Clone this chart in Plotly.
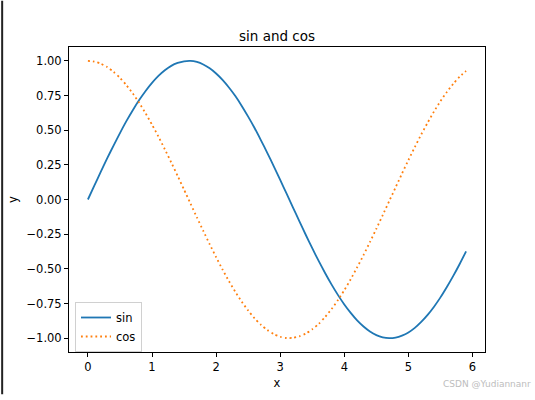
import plotly.graph_objects as go

x_vals = [0.0, 0.1, 0.2, 0.3, 0.4, 0.5, 0.6, 0.7, 0.8, 0.9,
          1.0, 1.1, 1.2, 1.3, 1.4, 1.5, 1.6, 1.7, 1.8, 1.9,
          2.0, 2.1, 2.2, 2.3, 2.4, 2.5, 2.6, 2.7, 2.8, 2.9,
          3.0, 3.1, 3.2, 3.3, 3.4, 3.5, 3.6, 3.7, 3.8, 3.9,
          4.0, 4.1, 4.2, 4.3, 4.4, 4.5, 4.6, 4.7, 4.8, 4.9,
          5.0, 5.1, 5.2, 5.3, 5.4, 5.5, 5.6, 5.7, 5.8, 5.9]

sin_vals = [0.000, 0.100, 0.199, 0.296, 0.389, 0.479, 0.565, 0.644, 0.717, 0.783,
            0.841, 0.891, 0.932, 0.964, 0.985, 0.997, 1.000, 0.992, 0.974, 0.946,
            0.909, 0.863, 0.808, 0.746, 0.675, 0.598, 0.516, 0.427, 0.335, 0.239,
            0.141, 0.042, -0.058, -0.158, -0.256, -0.351, -0.443, -0.530, -0.612, -0.688,
            -0.757, -0.818, -0.872, -0.916, -0.952, -0.978, -0.994, -1.000, -0.996, -0.982,
            -0.959, -0.926, -0.883, -0.832, -0.773, -0.706, -0.631, -0.551, -0.465, -0.374]

cos_vals = [1.000, 0.995, 0.980, 0.955, 0.921, 0.878, 0.825, 0.765, 0.697, 0.622,
            0.540, 0.454, 0.362, 0.267, 0.170, 0.071, -0.029, -0.129, -0.227, -0.323,
            -0.416, -0.505, -0.589, -0.666, -0.737, -0.801, -0.857, -0.904, -0.942, -0.971,
            -0.990, -0.999, -0.998, -0.987, -0.967, -0.936, -0.897, -0.848, -0.791, -0.726,
            -0.654, -0.575, -0.490, -0.401, -0.307, -0.211, -0.112, -0.012, 0.087, 0.187,
            0.284, 0.378, 0.469, 0.554, 0.635, 0.709, 0.776, 0.835, 0.886, 0.927]

x_ticks = [0, 1, 2, 3, 4, 5, 6]
y_ticks = [-1.00, -0.75, -0.50, -0.25, 0.00, 0.25, 0.50, 0.75, 1.00]
y_tick_labels = ["\u22121.00", "\u22120.75", "\u22120.50", "\u22120.25", "0.00", "0.25", "0.50", "0.75", "1.00"]

FONT = "DejaVu Sans"
W, H = 535, 400
L, R, T, B = 68, 50, 47, 43
pw, ph = W - L - R, H - T - B

fig = go.Figure()
fig.add_trace(go.Scatter(x=x_vals, y=sin_vals, mode="lines", name="sin",
                         line=dict(color="#1f77b4", width=1.8, shape="spline", smoothing=0.6)))
fig.add_trace(go.Scatter(x=x_vals, y=cos_vals, mode="lines", name="cos",
                         line=dict(color="#ff7f0e", width=1.8, dash="1.8px,3px",
                                   shape="spline", smoothing=0.6)))

axis_common = dict(showgrid=False, zeroline=False, showline=True, mirror=True,
                   linecolor="black", linewidth=1, ticks="outside", ticklen=4,
                   tickwidth=1, tickcolor="black",
                   tickfont=dict(family=FONT, size=11.5, color="black"))

fig.update_layout(
    width=W, height=H,
    margin=dict(l=L, r=R, t=T, b=B),
    paper_bgcolor="white", plot_bgcolor="white",
    font=dict(family=FONT, color="black"),
    showlegend=True,
    legend=dict(x=6 / pw, y=0.0, xanchor="left", yanchor="bottom",
                bgcolor="rgba(255,255,255,0.8)", bordercolor="#d0d0d0", borderwidth=1,
                font=dict(family=FONT, size=11.5, color="black"),
                tracegroupgap=0, itemwidth=30),
    xaxis=dict(range=[-0.295, 6.195], tickvals=x_ticks,
               title=dict(text="x", font=dict(family=FONT, size=11.5), standoff=6),
               **axis_common),
    yaxis=dict(range=[-1.1, 1.1], tickvals=y_ticks, ticktext=y_tick_labels,
               title=dict(text="y", font=dict(family=FONT, size=11.5), standoff=6),
               **axis_common),
    annotations=[
        dict(text="sin and cos", xref="paper", yref="paper", x=0.5, y=1,
             xanchor="center", yanchor="bottom", yshift=1, showarrow=False,
             font=dict(family=FONT, size=13.5, color="black")),
        dict(text="CSDN @Yudiannanr", xref="paper", yref="paper",
             x=(533 - L) / pw, y=-(390 - T - ph) / ph,
             xanchor="right", yanchor="middle", showarrow=False,
             font=dict(family=FONT, size=9, color="#bdbdbd")),
    ],
    shapes=[
        dict(type="line", xref="paper", yref="paper",
             x0=(1 - L) / pw, x1=(1 - L) / pw,
             y0=-B / ph, y1=(ph + T) / ph,
             line=dict(color="#222222", width=2)),
    ],
)

fig.write_html("out.html", config={"displayModeBar": False},
               post_script="document.body.style.margin='0';document.body.style.padding='0';")
